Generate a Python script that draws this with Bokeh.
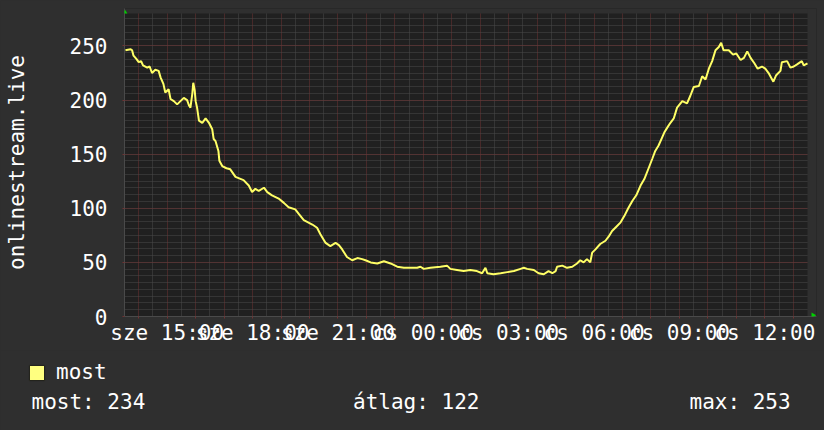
from bokeh.plotting import figure
from bokeh.layouts import column
from bokeh.models import (Range1d, FixedTicker, Label, Legend, LegendItem,
                          PolyAnnotation, BoxAnnotation)
from bokeh.embed import file_html
from bokeh.resources import INLINE

# ---------------- data ----------------
series_name = "most"
y_axis_title = "onlinestream.live"
start_hour = 13.5          # sze 13:30
span_hours = 24

# minutes after 13:30 (Wednesday) and the plotted value at that moment
minutes = [2, 13, 16, 19, 25, 30, 35, 39, 48, 53,
           58, 65, 72, 76, 82, 86, 93, 97, 104, 111,
           118, 125, 132, 136, 139, 143, 145, 148, 150, 153,
           157, 164, 171, 178, 185, 188, 192, 198, 200, 206,
           215, 223, 234, 251, 262, 269, 276, 283, 294, 301,
           311, 325, 336, 346, 360, 367, 378, 396, 406, 413,
           424, 434, 445, 452, 459, 469, 480, 491, 501, 508,
           519, 533, 547, 561, 575, 589, 603, 617, 624, 631,
           645, 666, 680, 687, 701, 715, 729, 743, 754, 761,
           765, 778, 793, 807, 821, 835, 842, 849, 863, 873,
           884, 894, 902, 909, 912, 923, 933, 944, 954, 961,
           968, 975, 982, 986, 993, 1003, 1014, 1021, 1028, 1037,
           1046, 1054, 1062, 1071, 1079, 1088, 1096, 1105, 1113, 1119,
           1126, 1132, 1138, 1145, 1151, 1158, 1165, 1176, 1186, 1193,
           1200, 1211, 1218, 1225, 1232, 1239, 1246, 1253, 1258, 1263,
           1274, 1283, 1290, 1299, 1306, 1313, 1320, 1328, 1335, 1344,
           1351, 1358, 1368, 1374, 1383, 1386, 1397, 1404, 1411, 1418,
           1428, 1432, 1440]
values = [246, 247, 246, 241, 238, 235, 236, 232, 230, 231,
          225, 228, 227, 221, 215, 207, 210, 201, 199, 196,
          199, 202, 200, 195, 193, 206, 216, 209, 199, 193,
          181, 179, 183, 179, 173, 164, 162, 153, 144, 139,
          137, 136, 129, 126, 121, 115, 118, 116, 119, 115,
          112, 109, 105, 101, 99, 95, 89, 85, 82, 76,
          68, 65, 68, 66, 62, 55, 52, 54, 53, 52,
          50, 49, 51, 49, 46, 45, 45, 45, 46, 44,
          45, 46, 47, 44, 43, 42, 43, 42, 40, 45,
          40, 39, 40, 41, 42, 44, 45, 44, 43, 40,
          39, 42, 40, 42, 46, 47, 45, 46, 49, 52,
          50, 53, 50, 59, 62, 67, 70, 74, 79, 83,
          87, 93, 100, 107, 112, 121, 127, 137, 146, 153,
          158, 164, 170, 175, 179, 183, 193, 199, 197, 204,
          212, 213, 222, 219, 229, 236, 246, 249, 253, 246,
          246, 242, 243, 237, 239, 245, 239, 234, 229, 231,
          229, 225, 217, 223, 227, 235, 236, 230, 231, 233,
          236, 232, 234]

tick_hours = [15, 18, 21, 24, 27, 30, 33, 36]
tick_labels = ["sze 15:00", "sze 18:00", "sze 21:00", "cs 00:00",
               "cs 03:00", "cs 06:00", "cs 09:00", "cs 12:00"]
y_ticks = [0, 50, 100, 150, 200, 250]
y_max = 280
stat_labels = ["most: 234", "átlag: 122", "max: 253"]

hours = [start_hour + m / 60.0 for m in minutes]

# ---------------- style / layout ----------------
FONT = "DejaVu Sans Mono"
FS = "21px"
BG = "#2f2f2f"
PLOT_BG = "#202020"
MAJOR = "#703232"
MINOR = "#4b4b4b"
TXT = "#ffffff"
GREEN = "#00d000"

W = 824
H_MAIN = 350
H_LEG = 430 - H_MAIN
FRAME_L, FRAME_R, FRAME_T, FRAME_B = 124, 816, 8, 316   # frame incl. arrow strip
PLOT_R, PLOT_T = 807, 13                                # data area edges
px_per_hour = (PLOT_R - FRAME_L) / span_hours
px_per_unit = (FRAME_B - PLOT_T) / y_max
x_end = start_hour + (FRAME_R - FRAME_L) / px_per_hour
y_top = (FRAME_B - FRAME_T) / px_per_unit
x_plot_end = start_hour + span_hours

fig = figure(width=W, height=H_MAIN, output_backend="svg", toolbar_location=None,
             x_range=Range1d(start_hour, x_end), y_range=Range1d(0, y_top),
             min_border_left=FRAME_L, min_border_right=W - FRAME_R,
             min_border_top=FRAME_T, min_border_bottom=H_MAIN - FRAME_B,
             background_fill_color=PLOT_BG, border_fill_color=BG,
             outline_line_color=None)

x_major = list(range(int(start_hour) + 1, int(x_plot_end) + 1))
x_minor = [h + 0.5 for h in range(int(start_hour), int(x_plot_end))]
xt = FixedTicker(ticks=x_major, minor_ticks=x_minor)
step = y_ticks[1] - y_ticks[0]
y_minor = [i * step / 8.0 for i in range(int(y_max / (step / 8.0)) + 1)]
yt = FixedTicker(ticks=y_ticks, minor_ticks=y_minor)

xa = fig.xaxis[0]
ya = fig.yaxis[0]
xa.ticker = xt
ya.ticker = yt
fig.xgrid[0].ticker = xt
fig.ygrid[0].ticker = yt

overrides = {h: "" for h in x_major}
for h, lab in zip(tick_hours, tick_labels):
    overrides[h] = lab
xa.major_label_overrides = overrides

for ax in (xa, ya):
    ax.axis_line_color = "#4a4a4a"
    ax.major_tick_line_color = MAJOR
    ax.major_tick_out = 2
    ax.major_tick_in = 0
    ax.minor_tick_line_color = None
    ax.major_label_text_font = FONT
    ax.major_label_text_font_size = FS
    ax.major_label_text_color = TXT

xa.major_label_standoff = 0
ya.major_label_standoff = 13
ya.axis_label = y_axis_title
ya.axis_label_text_font = FONT
ya.axis_label_text_font_size = FS
ya.axis_label_text_font_style = "normal"
ya.axis_label_text_color = TXT
ya.axis_label_standoff = 38

for g in (fig.xgrid[0], fig.ygrid[0]):
    g.grid_line_color = MAJOR
    g.grid_line_dash = "1 1"
    g.minor_grid_line_color = MINOR
    g.minor_grid_line_dash = "1 1"

# strips outside the data area (room for the arrow heads)
fig.add_layout(BoxAnnotation(bottom=y_max, fill_color=BG, fill_alpha=1,
                             line_color=None, level="underlay"))
fig.add_layout(BoxAnnotation(left=x_plot_end, fill_color=BG, fill_alpha=1,
                             line_color=None, level="underlay"))

fig.line(hours, values, line_color="#ffff66", line_width=2)

# green arrow heads at the ends of the axes
ay_v = 3.7 / px_per_unit
fig.add_layout(PolyAnnotation(
    xs=[start_hour - 2.4 / px_per_hour, start_hour + 2.9 / px_per_hour, start_hour + 0.5 / px_per_hour],
    ys=[y_max, y_max, y_max + ay_v],
    fill_color=GREEN, fill_alpha=1, line_color=None))
ax0 = start_hour + (811 - FRAME_L) / px_per_hour
fig.add_layout(PolyAnnotation(
    xs=[ax0, ax0, ax0 + 4.7 / px_per_hour],
    ys=[3.7, -1.7, 1.1],
    fill_color=GREEN, fill_alpha=1, line_color=None))

# ---------------- legend / statistics strip ----------------
leg = figure(width=W, height=H_LEG, output_backend="svg", toolbar_location=None,
             x_range=Range1d(0, W), y_range=Range1d(430, H_MAIN),
             x_axis_type=None, y_axis_type=None,
             min_border=0, min_border_left=0, min_border_right=0,
             min_border_top=0, min_border_bottom=0,
             background_fill_color=BG, border_fill_color=BG,
             outline_line_color=None)
for f in (fig, leg):
    if "frame_align" in f.properties():
        f.frame_align = False

# invisible proxy renderer that only lends its colours to the legend swatch
sq = leg.quad(left=[0], right=[0], top=[0], bottom=[0], fill_color="#ffff80",
              line_color="#151515", visible=False)
legend = Legend(items=[LegendItem(label=series_name, renderers=[sq])],
                location=(27, 430 - 384), glyph_width=19, glyph_height=19,
                label_standoff=10, padding=0, margin=0, spacing=0,
                background_fill_alpha=0, border_line_color=None,
                label_text_font=FONT, label_text_font_size=FS,
                label_text_color=TXT, label_height=19,
                inactive_fill_alpha=0)
leg.add_layout(legend, "center")

for txt, xpos in zip(stat_labels, [31, 352.5, 689]):
    leg.add_layout(Label(x=xpos, y=401.5, text=txt, text_font=FONT,
                         text_font_size=FS, text_color=TXT,
                         text_baseline="middle", text_align="left"))

p = column(fig, leg, spacing=0)

html = file_html(p, INLINE)
html = html.replace("</head>", "<style>html,body{background-color:%s;}</style></head>" % BG, 1)
open("out.html", "w").write(html)
